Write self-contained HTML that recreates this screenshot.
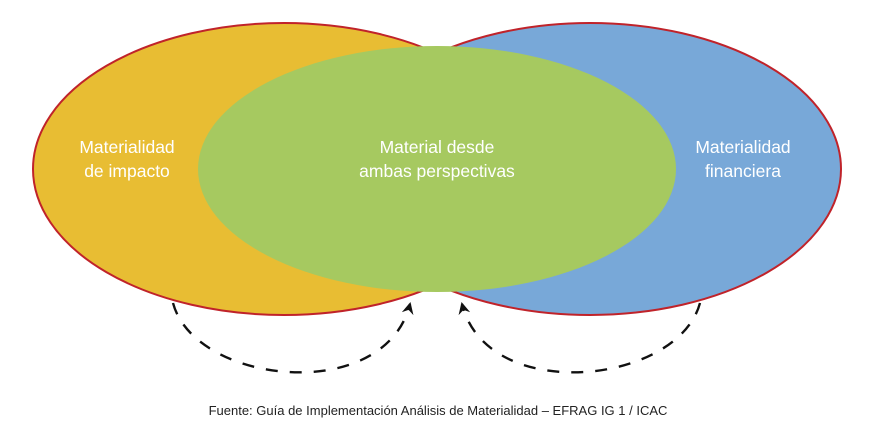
<!DOCTYPE html>
<html><head><meta charset="utf-8"><style>
body{margin:0;background:#fff;}
svg{display:block}
text{font-family:"Liberation Sans",sans-serif;}
</style></head><body>
<svg width="878" height="432" viewBox="0 0 878 432" xmlns="http://www.w3.org/2000/svg">
<defs>
<marker id="ah" markerWidth="14" markerHeight="12" refX="10" refY="6" orient="auto" markerUnits="userSpaceOnUse">
<path d="M0,0 L12,6 L0,12 L4,6 Z" fill="#111"/>
</marker>
</defs>
<ellipse cx="284" cy="169" rx="251" ry="146" fill="#e8bd33"/>
<ellipse cx="590" cy="169" rx="251" ry="146" fill="#78a8d8"/>
<ellipse cx="284" cy="169" rx="251" ry="146" fill="none" stroke="#c0232a" stroke-width="2"/>
<ellipse cx="590" cy="169" rx="251" ry="146" fill="none" stroke="#c0232a" stroke-width="2"/>
<ellipse cx="437" cy="169" rx="239" ry="123" fill="#a6c960"/>
<g fill="#fff" font-size="17.5" text-anchor="middle">
<text x="127" y="153">Materialidad</text>
<text x="127" y="177">de impacto</text>
<text x="437" y="153">Material desde</text>
<text x="437" y="177">ambas perspectivas</text>
<text x="743" y="153">Materialidad</text>
<text x="743" y="177">financiera</text>
</g>
<g fill="none" stroke="#111" stroke-width="2.4" stroke-dasharray="12,12">
<path d="M173,303 C195,385 385,405 410,304" marker-end="url(#ah)"/>
<path d="M700,303 C678,385 487,405 462,304" marker-end="url(#ah)"/>
</g>
<text x="438" y="415" font-size="13" fill="#222" text-anchor="middle">Fuente: Guía de Implementación Análisis de Materialidad – EFRAG IG 1 / ICAC</text>
</svg>
</body></html>
